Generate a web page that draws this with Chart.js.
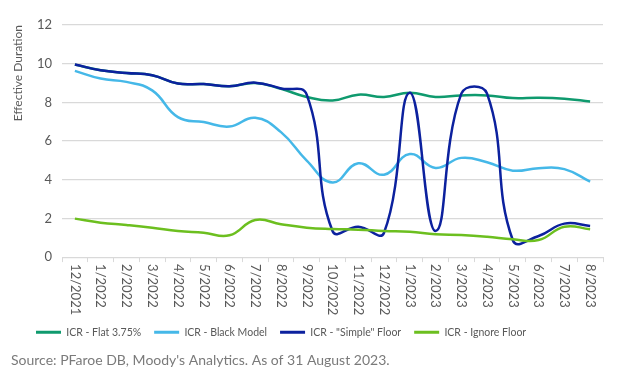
<!DOCTYPE html>
<html>
<head>
<meta charset="utf-8">
<script src="https://cdn.jsdelivr.net/npm/chart.js@4.4.1/dist/chart.umd.min.js"></script>
<style>
  html, body { margin: 0; padding: 0; background: #fff; }
  #wrap { position: relative; width: 630px; height: 388px; }
</style>
</head>
<body>
<div id="wrap"><canvas id="graph" width="630" height="388"></canvas></div>
<script>
var months = ["12/2021", "1/2022", "2/2022", "3/2022", "4/2022", "5/2022", "6/2022", "7/2022",
    "8/2022", "9/2022", "10/2022", "11/2022", "12/2022", "1/2023", "2/2023", "3/2023",
    "4/2023", "5/2023", "6/2023", "7/2023", "8/2023"];

var flatRate = [9.95, 9.66, 9.52, 9.4, 8.97, 8.95, 8.83, 9.0, 8.7, 8.28, 8.1,
    8.4, 8.28, 8.5, 8.28, 8.36, 8.36, 8.22, 8.24, 8.19, 8.05];
var blackModel = [9.63, 9.23, 9.06, 8.62, 7.24, 6.98, 6.75, 7.2, 6.46, 4.99, 3.86,
    4.85, 4.26, 5.33, 4.61, 5.13, 4.9, 4.47, 4.6, 4.55, 3.9];
var simpleFloor = [9.96, 9.66, 9.52, 9.4, 8.97, 8.95, 8.83, 9.02, 8.72, 8.4, 1.35,
    1.57, 1.26, 8.5, 1.35, 8.45, 8.45, 0.87, 1.09, 1.73, 1.61];
var ignoreFloor = [1.99, 1.78, 1.66, 1.52, 1.35, 1.26, 1.13, 1.92, 1.7, 1.52, 1.45,
    1.42, 1.35, 1.31, 1.18, 1.14, 1.05, 0.92, 0.88, 1.57, 1.44];

var textGrey = "#595959";
var font = "Lato, 'Open Sans', sans-serif";

// month labels turned clockwise like the excel original + nudge the legend right
var rotatedTicks = {
    id: "rotatedTicks",
    afterLayout: function(chart) {
        chart.legend.left += 12;
        chart.legend.right += 12;
    },
    afterDraw: function(chart) {
        var ctx = chart.ctx;
        var xs = chart.scales.x;
        ctx.save();
        ctx.fillStyle = textGrey;
        ctx.font = "13px " + font;
        ctx.textAlign = "left";
        ctx.textBaseline = "middle";
        for (var i = 0; i < months.length; i++) {
            var px = xs.getPixelForTick(i);
            ctx.save();
            ctx.translate(px, xs.top + 7);
            ctx.rotate(Math.PI / 2);
            ctx.fillText(months[i], 0, 0);
            ctx.restore();
        }
        ctx.restore();
    }
};

var ctx = document.getElementById("graph").getContext("2d");

new Chart(ctx, {
    type: "line",
    data: {
        labels: months,
        datasets: [{
            label: "ICR - Flat 3.75%",
            data: flatRate,
            borderColor: "#0f9a6e",
            order: 4
        }, {
            label: "ICR - Black Model",
            data: blackModel,
            borderColor: "#45b8e8",
            order: 3
        }, {
            label: "ICR - \"Simple\" Floor",
            data: simpleFloor,
            borderColor: "#0c219e",
            order: 2
        }, {
            label: "ICR - Ignore Floor",
            data: ignoreFloor,
            borderColor: "#6cbf1f",
            order: 1
        }]
    },
    plugins: [rotatedTicks],
    options: {
        responsive: false,
        animation: false,
        layout: { padding: { left: 11, right: 27, top: 25, bottom: 10 } },
        elements: {
            line: { borderWidth: 2.5, tension: 0.45, fill: false, capBezierPoints: false },
            point: { radius: 0 }
        },
        scales: {
            x: {
                offset: true,
                afterFit: function(scale) { scale.height = 57; },
                grid: { display: true, drawOnChartArea: false, offset: true, tickLength: 5, color: "#d9d9d9" },
                border: { color: "#d9d9d9" },
                ticks: {
                    color: "rgba(0,0,0,0)",
                    minRotation: 90,
                    maxRotation: 90,
                    autoSkip: false,
                    font: { family: font, size: 13 },
                    padding: 2
                }
            },
            y: {
                min: 0,
                max: 12,
                afterFit: function(scale) { scale.width = 51; },
                grid: { color: "#d9d9d9", drawTicks: false, lineWidth: 1.2 },
                border: { display: false },
                ticks: {
                    stepSize: 2,
                    color: textGrey,
                    padding: 10,
                    font: { family: font, size: 13 }
                },
                title: {
                    display: true,
                    text: "Effective Duration",
                    align: "end",
                    color: textGrey,
                    font: { family: font, size: 12 },
                    padding: { top: 0, bottom: 4 }
                }
            }
        },
        plugins: {
            tooltip: { enabled: false },
            legend: {
                position: "bottom",
                align: "start",
                labels: {
                    sort: function(a, b) { return a.datasetIndex - b.datasetIndex; },
                    boxWidth: 25,
                    boxHeight: 0,
                    padding: 13,
                    color: textGrey,
                    font: { family: font, size: 10.5 },
                    generateLabels: function(chart) {
                        return chart.data.datasets.map(function(ds, i) {
                            return {
                                text: ds.label,
                                strokeStyle: ds.borderColor,
                                fillStyle: ds.borderColor,
                                lineWidth: 3,
                                fontColor: textGrey,
                                datasetIndex: i
                            };
                        });
                    }
                }
            },
            title: {
                display: true,
                position: "bottom",
                align: "start",
                text: "Source: PFaroe DB, Moody's Analytics. As of 31 August 2023.",
                color: "#7a7a7a",
                font: { family: font, size: 14, weight: "normal" },
                padding: { top: 4, bottom: 9.6 }
            }
        }
    }
});
</script>
</body>
</html>
